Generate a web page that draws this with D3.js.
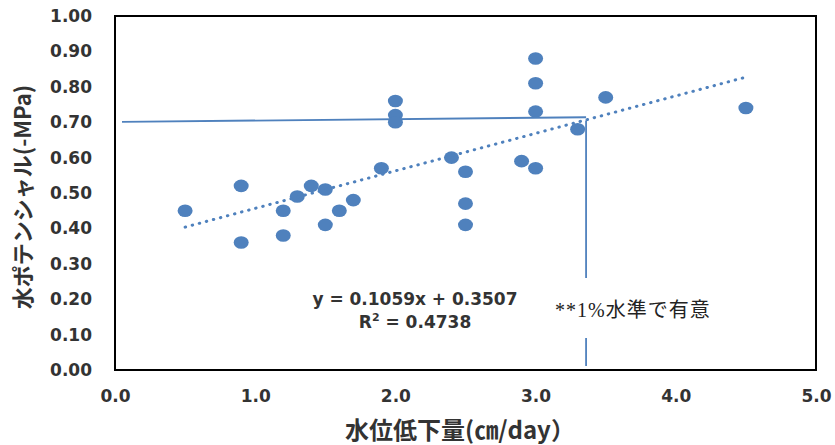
<!DOCTYPE html>
<html><head><meta charset="utf-8">
<script src="https://cdn.jsdelivr.net/npm/d3@7"></script>
<style>body{margin:0;background:#fff}</style>
</head><body>
<svg id="c" width="835" height="445"></svg>
<script>
const xs = [0.5,0.9,0.9,1.2,1.2,1.3,1.4,1.5,1.5,1.6,1.7,1.9,2.0,2.0,2.0,2.4,2.5,2.5,2.5,2.9,3.0,3.0,3.0,3.0,3.3,3.5,4.5];
const ys = [0.45,0.52,0.36,0.45,0.38,0.49,0.52,0.51,0.41,0.45,0.48,0.57,0.76,0.72,0.70,0.60,0.56,0.47,0.41,0.59,0.88,0.81,0.73,0.57,0.68,0.77,0.74];
const xTicks = [0,1,2,3,4,5];
const yTicks = [0,0.1,0.2,0.3,0.4,0.5,0.6,0.7,0.8,0.9,1.0];
const slope = 0.1059, intercept = 0.3507, r2 = 0.4738;
const trendRange = [0.5, 4.5];
const hLine = [[0.05,0.701],[3.36,0.714]];
const vLineX = 3.36, vLineTop = 0.705;

const svg = d3.select("#c");
const L=115,R=816,T=16,B=370;
const x = d3.scaleLinear().domain([0,5]).range([L,R]);
const y = d3.scaleLinear().domain([0,1]).range([B,T]);
const font = "'DejaVu Sans','Noto Sans CJK JP',sans-serif";
const cjk = "'Noto Sans CJK JP','DejaVu Sans',sans-serif";
const col = "#4f81bd";
const txt = "#333";

svg.append("rect").attr("x",L).attr("y",T).attr("width",R-L).attr("height",B-T)
  .attr("fill","none").attr("stroke","#000").attr("stroke-width",2);

const yAxis = svg.append("g").attr("transform",`translate(${L},0)`)
  .call(d3.axisLeft(y).tickValues(yTicks).tickFormat(d3.format(".2f")).tickSize(0).tickPadding(23));
const xAxis = svg.append("g").attr("transform",`translate(0,${B})`)
  .call(d3.axisBottom(x).tickValues(xTicks).tickFormat(d3.format(".1f")).tickSize(0).tickPadding(20));
[yAxis,xAxis].forEach(a=>{a.select(".domain").remove();
  a.selectAll("text").attr("font-family",font).attr("font-size",17).attr("font-weight","bold").attr("fill",txt);});

// annotation lines
svg.append("line").attr("x1",x(hLine[0][0])).attr("y1",y(hLine[0][1])).attr("x2",x(hLine[1][0])).attr("y2",y(hLine[1][1]))
  .attr("stroke",col).attr("stroke-width",1.8);
svg.append("line").attr("x1",x(vLineX)).attr("y1",y(vLineTop)).attr("x2",x(vLineX)).attr("y2",278)
  .attr("stroke",col).attr("stroke-width",1.8);
svg.append("line").attr("x1",x(vLineX)).attr("y1",338).attr("x2",x(vLineX)).attr("y2",366)
  .attr("stroke",col).attr("stroke-width",1.8);

// points
svg.append("g").selectAll("ellipse").data(xs.map((v,i)=>[v,ys[i]])).join("ellipse")
  .attr("cx",d=>x(d[0])).attr("cy",d=>y(d[1])).attr("rx",7.5).attr("ry",6.3).attr("fill",col);

// trendline
svg.append("line").attr("x1",x(trendRange[0])).attr("y1",y(slope*trendRange[0]+intercept))
  .attr("x2",x(trendRange[1])).attr("y2",y(slope*trendRange[1]+intercept))
  .attr("stroke",col).attr("stroke-width",3).attr("stroke-dasharray","0.5 6.8").attr("stroke-linecap","round");

// equation
svg.append("text").attr("x",415).attr("y",305).attr("text-anchor","middle").attr("font-family",font)
  .attr("font-size",17).attr("font-weight","bold").attr("fill",txt)
  .attr("textLength",205).attr("lengthAdjust","spacing")
  .text(`y = ${slope}x + ${intercept}`);
const t2 = svg.append("text").attr("x",415).attr("y",328).attr("text-anchor","middle").attr("font-family",font)
  .attr("font-size",17).attr("font-weight","bold").attr("fill",txt);
t2.append("tspan").text("R");
t2.append("tspan").attr("font-size",11).attr("dy",-7).text("2");
t2.append("tspan").attr("dy",7).text(` = ${r2}`);

svg.append("text").attr("x",555).attr("y",317).attr("font-family","'Liberation Serif','Noto Sans CJK JP',serif")
  .attr("font-size",20).attr("fill","#222").attr("letter-spacing",1)
  .text("**1%水準で有意");

// axis titles
svg.append("text").attr("x",460).attr("y",439).attr("text-anchor","middle").attr("font-family",cjk)
  .attr("font-size",24).attr("font-weight","bold").attr("fill",txt)
  .text("水位低下量(㎝/day）");
svg.append("text").attr("transform","translate(31,197) rotate(-90)").attr("text-anchor","middle").attr("font-family",cjk)
  .attr("font-size",22).attr("font-weight","bold").attr("fill",txt)
  .text("水ポテンシャル(-MPa)");
</script>
</body></html>
